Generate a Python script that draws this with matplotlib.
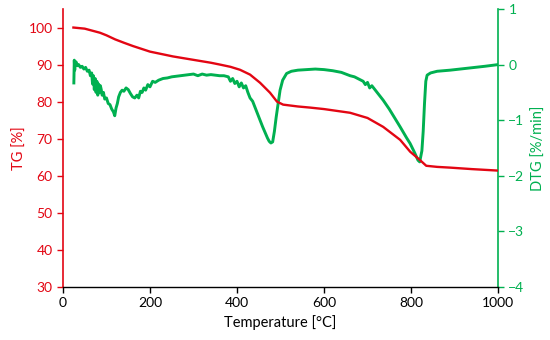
import matplotlib
matplotlib.use('Agg')
import matplotlib.pyplot as plt

# TG curve (left axis, %)
tg_temp = [24, 50, 85, 100, 120, 140, 161, 200, 253, 299, 340, 361, 385, 407, 430, 453, 476, 492, 506, 540, 568,
           600, 660, 700, 736, 775, 798, 820, 835, 860, 890, 940, 1000]
tg_val = [100.0, 99.7, 98.6, 97.9, 96.8, 95.9, 95.0, 93.5, 92.2, 91.3, 90.5, 90.0, 89.4, 88.6, 87.3, 85.1, 82.4, 80.0, 79.2,
          78.7, 78.4, 78.0, 77.0, 75.6, 73.2, 69.7, 66.5, 64.3, 62.7, 62.4, 62.2, 61.8, 61.4]

# DTG curve (right axis, %/min)
dtg_temp = [25, 26, 27, 28, 30, 33, 36, 40, 44, 48, 52, 56, 60, 63, 66, 68, 70, 72, 74, 76, 78, 80, 82, 84, 86,
            88, 90, 93, 96, 100, 104, 108, 112, 116, 119, 122, 125, 128, 132, 136, 140, 145, 150, 155, 160,
            165, 170, 174, 178, 182, 186, 190, 195, 200, 206, 212, 220, 230, 240, 250, 260, 270, 280, 290,
            300, 310, 320, 330, 340, 350, 360, 370, 380, 385, 390, 395, 400, 405, 410, 415, 420, 425, 430,
            436, 442, 448, 453, 459, 465, 470, 474, 478, 482, 486, 490, 495, 499, 505, 514, 525, 540, 560,
            580, 600, 620, 640, 660, 670, 680, 690, 695, 700, 705, 710, 720, 736, 750, 775, 790, 798, 808,
            816, 820, 825, 828, 831, 834, 837, 845, 860, 890, 935, 970, 1000]
dtg_val = [-0.33, 0.08, -0.1, 0.02, 0.05, -0.02, 0.0, -0.05, -0.03, -0.08, -0.05, -0.12, -0.1, -0.2, -0.15, -0.35,
           -0.2, -0.45, -0.25, -0.5, -0.3, -0.55, -0.35, -0.5, -0.38, -0.45, -0.55, -0.5, -0.62, -0.6, -0.7, -0.72,
           -0.8, -0.85, -0.92, -0.78, -0.7, -0.58, -0.5, -0.46, -0.48, -0.42, -0.45, -0.52, -0.58, -0.6,
           -0.55, -0.6, -0.48, -0.5, -0.42, -0.46, -0.36, -0.4, -0.3, -0.32, -0.28, -0.25, -0.24, -0.22,
           -0.21, -0.2, -0.19, -0.18, -0.17, -0.2, -0.17, -0.19, -0.18, -0.19, -0.2, -0.2, -0.22, -0.3,
           -0.25, -0.34, -0.3, -0.4, -0.33, -0.42, -0.38, -0.5, -0.6, -0.66, -0.78, -0.9, -1.0, -1.12, -1.23,
           -1.32, -1.38, -1.41, -1.39, -1.2, -0.95, -0.68, -0.46, -0.28, -0.16, -0.12, -0.1, -0.09,
           -0.08, -0.09, -0.11, -0.14, -0.2, -0.22, -0.26, -0.3, -0.36, -0.32, -0.42, -0.38, -0.48, -0.64,
           -0.8, -1.12, -1.32, -1.42, -1.58, -1.72, -1.75, -1.55, -1.2, -0.7, -0.3, -0.19, -0.15, -0.12, -0.1,
           -0.06, -0.03, 0.0]

red = '#e30613'
green = '#00b050'

plt.rcParams['font.family'] = ['Lato', 'DejaVu Sans']
plt.rcParams['font.size'] = 10

fig = plt.figure(figsize=(5.5, 3.4), dpi=100)
ax = fig.add_axes([0.1145, 0.156, 0.791, 0.8175])
ax2 = ax.twinx()

ax.plot(tg_temp, tg_val, color=red, lw=1.7, zorder=3)
ax2.plot(dtg_temp, dtg_val, color=green, lw=2.1)

ax.set_zorder(ax2.get_zorder() + 1)
ax.patch.set_visible(False)

ax.set_xlim(0, 1000)
ax.set_ylim(30, 105)
ax.set_yticks(range(30, 101, 10))
ax.set_xticks(range(0, 1001, 200))
ax2.set_ylim(-4, 1)
ax2.set_yticks([-4, -3, -2, -1, 0, 1])

ax.set_xlabel('Temperature [°C]', fontsize=10.5)
ax.set_ylabel('TG [%]', color=red, fontsize=10.5, labelpad=1)
ax2.set_ylabel('DTG [%/min]', color=green, fontsize=10.5, labelpad=5)

for a in (ax, ax2):
    a.spines['top'].set_visible(False)
ax.spines['right'].set_visible(False)
ax2.spines['left'].set_visible(False)
ax2.spines['bottom'].set_visible(False)
ax.spines['left'].set_color(red)
ax.spines['left'].set_linewidth(1.2)
ax2.spines['right'].set_color(green)
ax2.spines['right'].set_linewidth(1.2)
ax.spines['bottom'].set_linewidth(1.0)

ax.tick_params(axis='y', colors=red, length=4, width=1.0)
ax.tick_params(axis='x', length=4, width=1.0)
ax2.tick_params(axis='y', colors=green, length=4, width=1.0)

fig.savefig('out.png', dpi=100)
